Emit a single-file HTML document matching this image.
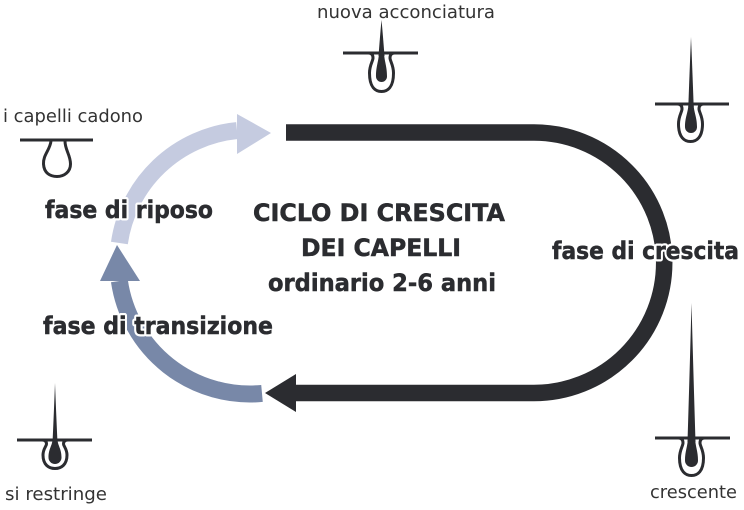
<!DOCTYPE html>
<html>
<head>
<meta charset="utf-8">
<style>
  html, body { margin: 0; padding: 0; background: #ffffff; }
  body { width: 744px; height: 510px; overflow: hidden; }
  svg { display: block; }
  .small { font-family: "DejaVu Sans", "Liberation Sans", sans-serif; font-size: 17.5px; fill: #333333; }
  .halo { font-family: "DejaVu Sans", "Liberation Sans", sans-serif; font-weight: bold; font-size: 24px; fill: #ffffff; stroke: #ffffff; stroke-width: 5px; stroke-linejoin: round; }
  .bold { font-family: "DejaVu Sans", "Liberation Sans", sans-serif; font-weight: bold; font-size: 24px; fill: #2b2c30; stroke: #2b2c30; stroke-width: 0.5px; }
  .title { font-family: "DejaVu Sans", "Liberation Sans", sans-serif; font-weight: bold; font-size: 24px; fill: #2b2c30; stroke: #2b2c30; stroke-width: 0.5px; }
</style>
</head>
<body>
<svg width="744" height="510" viewBox="0 0 744 510" xmlns="http://www.w3.org/2000/svg">
  <!-- Dark growth path -->
  <path d="M286,132.5 H534 A130.25,130.25 0 0 1 534,393 H294" fill="none" stroke="#2b2c30" stroke-width="16.5"/>
  <polygon points="265,393 296,374 296,412" fill="#2b2c30"/>

  <!-- Transition arc -->
  <path d="M262,393.45 A132,132 0 0 1 119.4,281" fill="none" stroke="#7888a8" stroke-width="17"/>
  <polygon points="100,281 140,281 117,245" fill="#7888a8"/>

  <!-- Rest arc -->
  <path d="M119.4,243 A132,132 0 0 1 237,130.6" fill="none" stroke="#c5cbe0" stroke-width="17"/>
  <polygon points="237,114 271,133 237,154" fill="#c5cbe0"/>

  <!-- Icon 1: i capelli cadono (empty follicle) -->
  <g fill="none" stroke="#2b2c30" stroke-width="3">
    <path d="M20,140 H93"/>
    <path d="M51,141 C50,150 43,155 43.5,164 C44,173 50,176.5 57,176.5 C64,176.5 70.5,172 70.5,164 C70.5,155 65,150 65,141"/>
  </g>

  <!-- Icon 2: nuova acconciatura (cx=381.5, s=53, d=38.5) -->
  <g fill="#2b2c30">
    <path d="M343,53 H418" fill="none" stroke="#2b2c30" stroke-width="3"/>
    <path d="M368.5,53 Q373,53 373,58 C373,61 369.5,65 369.5,73 C369.5,87.5 375.5,91.5 381.5,91.5 C387.5,91.5 393.5,87.5 393.5,73 C393.5,65 390,61 390,58 Q390,53 394.5,53" fill="none" stroke="#2b2c30" stroke-width="3"/>
    <path d="M378.5,56 Q380.5,30 381.5,20 Q382.5,30 384.5,56 Z"/>
    <path d="M379,53 C378.5,62 376,66 376,76.5 A5.5,5.5 0 0 0 387,76.5 C387,66 384.5,62 384,53 Z"/>
  </g>

  <!-- Icon 3: top right (cx=690.5, s=104) -->
  <g fill="#2b2c30">
    <path d="M655,104 H729" fill="none" stroke="#2b2c30" stroke-width="3"/>
    <path d="M677.5,104 Q682,104 682,109 C682,112 678.5,116 678.5,124 C678.5,137.5 684.5,141.5 690.5,141.5 C696.5,141.5 702.5,137.5 702.5,124 C702.5,116 699,112 699,109 Q699,104 703.5,104" fill="none" stroke="#2b2c30" stroke-width="3"/>
    <path d="M688.3,107 Q690,60 691,37 Q692,60 693.7,107 Z"/>
    <path d="M688.5,104 C688,113 685,117 685,127 A6,6 0 0 0 697,127 C697,117 694,113 693.5,104 Z"/>
  </g>

  <!-- Icon 4: crescente (bottom right, cx=691.5, s=438) -->
  <g fill="#2b2c30">
    <path d="M655,438 H730" fill="none" stroke="#2b2c30" stroke-width="3"/>
    <path d="M678.5,438 Q683,438 683,443 C683,446 679.5,450 679.5,458 C679.5,471.5 685.5,475.5 691.5,475.5 C697.5,475.5 703.5,471.5 703.5,458 C703.5,450 700,446 700,443 Q700,438 704.5,438" fill="none" stroke="#2b2c30" stroke-width="3"/>
    <path d="M687.5,442 Q690,360 691.5,303 Q693,360 695.5,442 Z"/>
    <path d="M688,438 C687.5,447 685,451 685,460.5 A6.5,6.5 0 0 0 698,460.5 C698,451 695.5,447 695,438 Z"/>
  </g>

  <!-- Icon 5: si restringe (bottom left, cx=55, s=440) -->
  <g fill="#2b2c30">
    <path d="M17,440 H92" fill="none" stroke="#2b2c30" stroke-width="3"/>
    <path d="M42,440 Q46.5,440 46.5,444 C46.5,446 43,449 43,455 C43,465 49,468.5 55,468.5 C61,468.5 67,465 67,455 C67,449 63.5,446 63.5,444 Q63.5,440 68,440" fill="none" stroke="#2b2c30" stroke-width="3"/>
    <path d="M52.5,443 Q54,410 55,383 Q56,410 57.5,443 Z"/>
    <path d="M52.5,440 C52,446 48.5,449 48.5,457.5 A6.5,6.5 0 0 0 61.5,457.5 C61.5,449 58,446 57.5,440 Z"/>
  </g>

  <!-- Small labels -->
  <text class="small" x="317" y="18" textLength="178" lengthAdjust="spacingAndGlyphs">nuova acconciatura</text>
  <text class="small" x="3" y="122" textLength="140" lengthAdjust="spacingAndGlyphs">i capelli cadono</text>
  <text class="small" x="5" y="500" textLength="102" lengthAdjust="spacingAndGlyphs">si restringe</text>
  <text class="small" x="650" y="498" textLength="87" lengthAdjust="spacingAndGlyphs">crescente</text>

  <!-- Phase labels: halos -->
  <text class="halo" x="45" y="218" textLength="168" lengthAdjust="spacingAndGlyphs">fase di riposo</text>
  <text class="halo" x="43" y="334" textLength="230" lengthAdjust="spacingAndGlyphs">fase di transizione</text>
  <text class="halo" x="552" y="259" textLength="187" lengthAdjust="spacingAndGlyphs">fase di crescita</text>
  <!-- Phase labels -->
  <text class="bold" x="45" y="218" textLength="168" lengthAdjust="spacingAndGlyphs">fase di riposo</text>
  <text class="bold" x="43" y="334" textLength="230" lengthAdjust="spacingAndGlyphs">fase di transizione</text>
  <text class="bold" x="552" y="259" textLength="187" lengthAdjust="spacingAndGlyphs">fase di crescita</text>

  <!-- Title -->
  <text class="title" x="253" y="221" textLength="252" lengthAdjust="spacingAndGlyphs">CICLO DI CRESCITA</text>
  <text class="title" x="301" y="256" textLength="160" lengthAdjust="spacingAndGlyphs">DEI CAPELLI</text>
  <text class="title" x="268" y="291" textLength="228" lengthAdjust="spacingAndGlyphs">ordinario 2-6 anni</text>
</svg>
</body>
</html>
